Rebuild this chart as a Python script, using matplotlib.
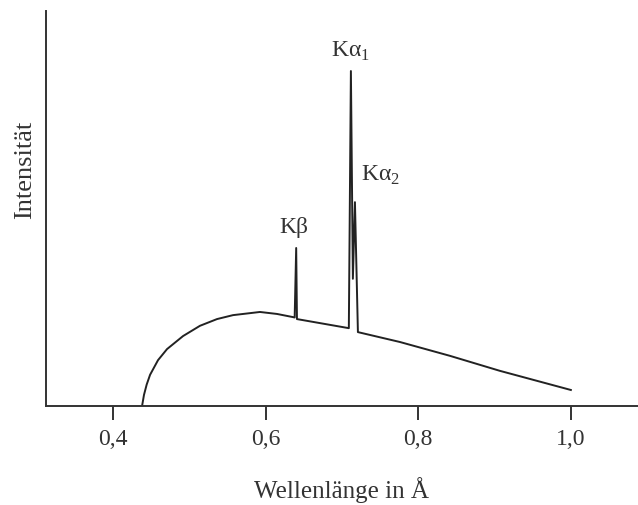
import matplotlib
matplotlib.use("Agg")
import matplotlib.pyplot as plt

# Continuous spectrum with characteristic lines
wavelength = [0.438, 0.4405, 0.4440, 0.4485, 0.4589, 0.4707, 0.4917, 0.5139, 0.5362, 0.5572,
              0.5794, 0.5925, 0.6148, 0.6358,
              0.638, 0.640, 0.641,
              0.709, 0.7117, 0.7143, 0.717, 0.7209,
              0.7759, 0.8414, 0.9069, 1.0]
intensity = [0.0, 2.8, 5.4, 7.9, 11.6, 14.4, 17.7, 20.3, 22.0, 23.0,
             23.5, 23.8, 23.3, 22.5,
             22.4, 40.0, 22.0,
             19.7, 84.8, 32.2, 51.6, 18.7,
             16.2, 12.7, 8.9, 4.05]

tick_values = [0.4, 0.6, 0.8, 1.0]
tick_labels = ["0,4", "0,6", "0,8", "1,0"]

line_labels = ["Kβ", "Kα$_1$", "Kα$_2$"]
line_pos = [(0.637, 42.8), (0.7117, 87.0), (0.750, 55.7)]

plt.rcParams["font.family"] = ["Liberation Serif", "DejaVu Serif"]
plt.rcParams["mathtext.fontset"] = "custom"
plt.rcParams["mathtext.rm"] = "Liberation Serif"

fig = plt.figure(figsize=(6.38, 5.06), dpi=100)
ax = fig.add_axes([0.072, 0.1957, 0.928, 0.7806])

ax.plot(wavelength, intensity, color="#222222", lw=1.4)

ax.set_xlim(0.312, 1.088)
ax.set_ylim(0, 100)

for side in ["top", "right"]:
    ax.spines[side].set_visible(False)
for side in ["left", "bottom"]:
    ax.spines[side].set_linewidth(1.4)
    ax.spines[side].set_color("#333333")

ax.set_xticks(tick_values)
ax.set_xticklabels(tick_labels)
ax.set_yticks([])
ax.tick_params(axis="x", direction="out", length=10, width=1.4, color="#333333",
               labelsize=17, labelcolor="#333333", pad=6)

for text, (x, y) in zip(line_labels, line_pos):
    ax.text(x, y, text, ha="center", va="bottom", fontsize=17, color="#333333")

ax.set_xlabel("Wellenlänge in Å", fontsize=18, color="#333333", labelpad=19)
fig.text(0.039, 0.664, "Intensität", rotation=90, ha="center", va="center",
         fontsize=19, color="#333333")

fig.savefig("out.png", dpi=100)
